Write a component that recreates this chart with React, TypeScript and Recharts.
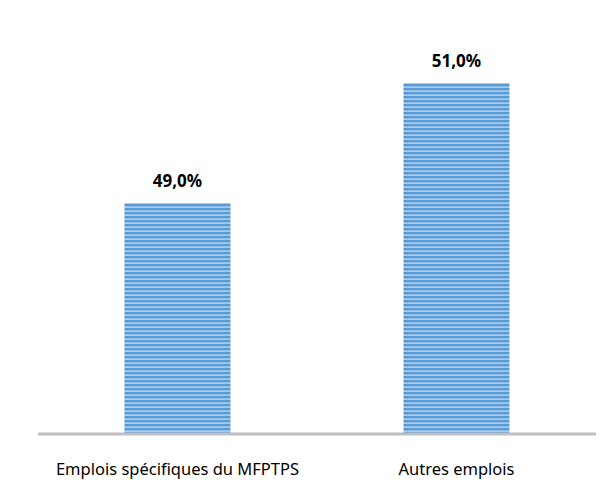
import React from "react";
import { BarChart, Bar, XAxis, YAxis, LabelList } from "recharts";

const categories = ["Emplois spécifiques du MFPTPS", "Autres emplois"];
const shares = [49.0, 51.0];

const data = categories.map((c, i) => ({ name: c, value: shares[i] }));

const fmt = (v: number) => v.toFixed(1).replace(".", ",") + "%";

export default function App() {
  return (
    <div style={{ position: "absolute", left: 0, top: 0, width: 613, height: 480, background: "#fff" }}>
      <BarChart width={613} height={480} data={data} margin={{ top: 23, right: 17, bottom: 0, left: 38 }} barCategoryGap="31%">
        <defs>
          <pattern id="stripes" patternUnits="userSpaceOnUse" width="8" height="4">
            <rect x="0" y="0" width="8" height="4" fill="#A8CAEA" />
            <rect x="0" y="0" width="8" height="2.3" fill="#5B9BD5" />
          </pattern>
        </defs>
        <XAxis
          dataKey="name"
          height={46}
          tickLine={false}
          axisLine={{ stroke: "#BFBFBF", strokeWidth: 3 }}
          tickMargin={23}
          tick={{ fill: "#000", fontSize: 16.5, fontFamily: "Noto Sans" }}
          interval={0}
        />
        <YAxis hide domain={[45.15, 52]} allowDataOverflow />
        <Bar dataKey="value" fill="url(#stripes)" isAnimationActive={false}>
          <LabelList dataKey="value" position="top" offset={16} formatter={fmt} style={{ fill: "#000", fontSize: 17, fontWeight: "bold", fontFamily: "Noto Sans" }} />
        </Bar>
      </BarChart>
    </div>
  );
}
